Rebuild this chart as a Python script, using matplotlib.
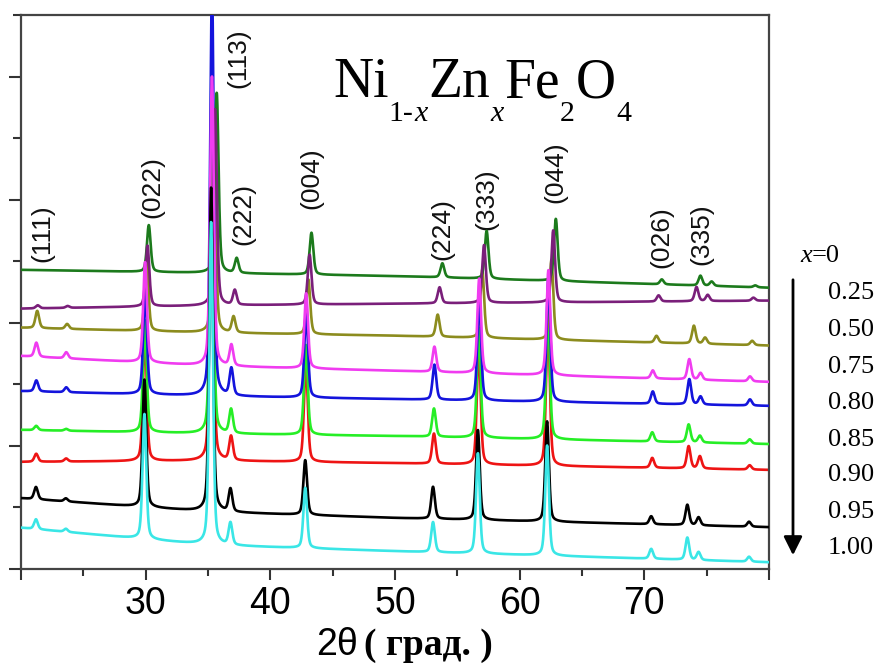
import numpy as np
import matplotlib.pyplot as plt
from matplotlib.ticker import MultipleLocator

# compositions, top trace (x=0) first
compositions = ["0", "0.25", "0.50", "0.75", "0.80", "0.85", "0.90", "0.95", "1.00"]
colors = ["#1c7a1c", "#7a1f7a", "#8c8c1e", "#f03cf0", "#1414dc",
          "#26ee26", "#ee1414", "#000000", "#3ae6e6"]
draw_order = [6, 5, 2, 4, 0, 1, 3, 7, 8]

# baseline levels (a.u.) read at these angles
baseline_angles = [20, 35, 50, 80]
baselines = [
    [4.86, 4.81, 4.76, 4.57],
    [4.23, 4.28, 4.31, 4.36],
    [3.92, 3.84, 3.79, 3.63],
    [3.46, 3.30, 3.22, 3.04],
    [2.89, 2.81, 2.76, 2.65],
    [2.26, 2.20, 2.16, 2.03],
    [1.74, 1.76, 1.72, 1.61],
    [1.15, 0.93, 0.83, 0.68],
    [0.67, 0.39, 0.29, 0.11],
]

# peak centres (2theta) for x=0 and x=1, and how far each trace has moved between them
peaks_x0 = [21.4, 23.8, 30.25, 35.7, 37.3, 43.3, 53.8, 57.35, 62.9, 71.4, 74.5, 75.4, 78.9]
peaks_x1 = [21.2, 23.6, 29.9, 35.25, 36.8, 42.8, 53.05, 56.65, 62.2, 70.55, 73.45, 74.35, 78.4]
shift = [0, 0.3, 0.5, 0.85, 0.85, 0.9, 0.9, 1.0, 1.0]

# peak heights (a.u.) per trace, same column order as the peak centres
heights = [
    [0.00, 0.00, 0.76, 2.93, 0.24, 0.68, 0.23, 0.78, 1.01, 0.08, 0.16, 0.07, 0.03],
    [0.05, 0.03, 0.99, 3.19, 0.24, 0.81, 0.26, 0.94, 1.17, 0.10, 0.23, 0.10, 0.05],
    [0.28, 0.08, 1.17, 3.32, 0.26, 0.89, 0.36, 1.11, 1.30, 0.11, 0.29, 0.10, 0.07],
    [0.23, 0.10, 1.63, 4.70, 0.34, 1.22, 0.41, 1.54, 1.71, 0.13, 0.33, 0.11, 0.08],
    [0.18, 0.08, 1.71, 6.67, 0.44, 1.38, 0.57, 1.71, 2.03, 0.20, 0.41, 0.13, 0.10],
    [0.07, 0.03, 1.82, 4.62, 0.39, 1.46, 0.46, 1.79, 2.11, 0.15, 0.29, 0.11, 0.07],
    [0.13, 0.05, 2.11, 4.81, 0.39, 1.63, 0.49, 1.95, 2.36, 0.16, 0.36, 0.20, 0.07],
    [0.20, 0.05, 2.07, 5.27, 0.37, 0.89, 0.52, 1.46, 1.63, 0.13, 0.33, 0.13, 0.08],
    [0.16, 0.05, 2.03, 5.25, 0.36, 0.98, 0.49, 1.63, 1.79, 0.16, 0.36, 0.13, 0.08],
]
fwhm = 0.35

# hkl labels: text, angle, bottom level
hkl_labels = ["(111)", "(022)", "(113)", "(222)", "(004)", "(224)", "(333)", "(044)", "(026)", "(335)"]
hkl_x = [21.7, 30.5, 37.4, 37.8, 43.3, 53.8, 57.3, 62.9, 71.4, 74.6]
hkl_y = [4.99, 5.70, 7.82, 5.27, 5.85, 5.02, 5.50, 5.95, 4.89, 4.94]

# formula pieces: (text, italic, subscript)
formula = [("Ni", False, False), ("1-", False, True), ("x", True, True),
           ("Zn", False, False), ("x", True, True),
           ("Fe", False, False), ("2", False, True),
           ("O", False, False), ("4", False, True)]


def pseudo_voigt(t, c, w):
    d = (t - c) / w
    return 0.6 * np.exp(-4 * np.log(2) * d ** 2) + 0.4 / (1 + 4 * d ** 2)


fig = plt.figure(figsize=(8.86, 6.69), dpi=100)
ax = fig.add_axes([21 / 886, 100 / 669, 748 / 886, 554 / 669])

theta = np.linspace(20, 80, 4000)
for z, i in enumerate(draw_order):
    y = np.interp(theta, baseline_angles, baselines[i])
    for p0, p1, h in zip(peaks_x0, peaks_x1, heights[i]):
        c = p0 + (p1 - p0) * shift[i]
        y = y + h * pseudo_voigt(theta, c, fwhm)
    ax.plot(theta, y, color=colors[i], lw=1.9, zorder=2 + z)

for txt, xx, yy in zip(hkl_labels, hkl_x, hkl_y):
    ax.text(xx, yy, txt, rotation=90, ha="center", va="bottom",
            fontsize=19, family="Liberation Sans", color="#111111")

ax.set_xlim(20, 80)
ax.set_ylim(0, 9)
ax.set_xticks([20, 30, 40, 50, 60, 70, 80])
ax.set_xticklabels(["", "30", "40", "50", "60", "70", ""], family="Liberation Sans")
ax.xaxis.set_minor_locator(MultipleLocator(5))
ax.set_yticks([0, 2, 4, 6, 8])
ax.yaxis.set_minor_locator(MultipleLocator(1))
ax.set_yticklabels([])
ax.tick_params(axis="x", which="major", direction="out", length=8, width=1.5,
               labelsize=27, pad=4, color="#333333")
ax.tick_params(axis="x", which="minor", direction="out", length=5, width=1.5, color="#333333")
ax.tick_params(axis="y", which="major", direction="out", length=9, width=1.5, color="#333333")
ax.tick_params(axis="y", which="minor", direction="out", length=6, width=1.5, color="#333333")
for s in ax.spines.values():
    s.set_linewidth(1.6)
    s.set_color("#444444")

# x label: sans "2θ" + bold serif "( град. )"
fig.text(358 / 886, 1 - 655 / 669, "2θ", ha="right", va="baseline",
         fontsize=27, family="Liberation Sans")
fig.text(364 / 886, 1 - 655 / 669, "( град. )", ha="left", va="baseline",
         fontsize=27, family="Liberation Serif", weight="bold")

# formula, laid out piece by piece so the subscripts sit low like the original
fig.canvas.draw()
renderer = fig.canvas.get_renderer()
cursor = 333
for txt, italic, sub in formula:
    t = fig.text(cursor / 886, 1 - (121 if sub else 97) / 669, txt,
                 ha="left", va="baseline", family="Liberation Serif",
                 fontsize=21.5 if sub else 40, style="italic" if italic else "normal")
    cursor += t.get_window_extent(renderer).width + (1 if sub else 0)

# composition list with arrow
fig.text(812 / 886, 1 - 256 / 669, "x", ha="right", va="center",
         fontsize=19, family="Liberation Serif", style="italic")
fig.text(812 / 886, 1 - 256 / 669, "=0", ha="left", va="center",
         fontsize=19, family="Liberation Serif")
label_rows = [293, 330, 367, 403, 440, 475, 512, 548]
for txt, py in zip(compositions[1:], label_rows):
    fig.text(851 / 886, 1 - py / 669, txt, ha="center", va="center",
             fontsize=19, family="Liberation Serif")
ax.annotate("", xy=(793 / 886, 1 - 558 / 669), xytext=(793 / 886, 1 - 277 / 669),
            xycoords="figure fraction", textcoords="figure fraction",
            arrowprops=dict(arrowstyle="-|>", lw=2, color="black", mutation_scale=28),
            annotation_clip=False)

fig.savefig("out.png", dpi=100)
